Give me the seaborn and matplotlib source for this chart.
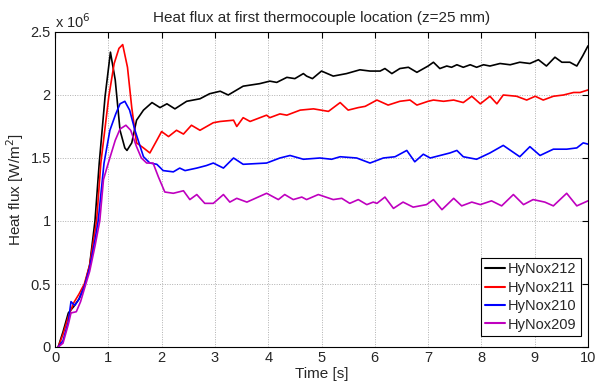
import numpy as np
import pandas as pd
import matplotlib
matplotlib.use("Agg")
import matplotlib.pyplot as plt
from matplotlib.ticker import FuncFormatter
import seaborn as sns

# ---- data (heat flux in units of 1e6 W/m^2) ----
series_names = ["HyNox212", "HyNox211", "HyNox210", "HyNox209"]

t_212 = [0.06, 0.15, 0.25, 0.35, 0.45, 0.55, 0.65, 0.75, 0.83, 0.94, 1.04, 1.13, 1.22, 1.31, 1.35,
         1.44, 1.53, 1.66, 1.82, 1.97, 2.1, 2.25, 2.47, 2.72, 2.9, 3.1, 3.25, 3.53, 3.84, 4.03,
         4.16, 4.35, 4.5, 4.66, 4.72, 4.83, 5.0, 5.22, 5.47, 5.72, 5.91, 6.1, 6.19, 6.32, 6.47,
         6.63, 6.79, 7.0, 7.1, 7.22, 7.35, 7.44, 7.54, 7.66, 7.79, 7.91, 8.04, 8.16, 8.35, 8.54,
         8.72, 8.91, 9.07, 9.22, 9.38, 9.51, 9.66, 9.79, 9.9, 10.0]
v_212 = [0.0, 0.12, 0.27, 0.32, 0.38, 0.48, 0.65, 1.0, 1.46, 1.99, 2.34, 2.12, 1.72, 1.58, 1.56,
         1.62, 1.80, 1.88, 1.94, 1.90, 1.93, 1.89, 1.95, 1.97, 2.01, 2.03, 2.0, 2.07, 2.09, 2.11,
         2.10, 2.14, 2.13, 2.17, 2.15, 2.13, 2.19, 2.15, 2.17, 2.20, 2.19, 2.19, 2.21, 2.17, 2.21,
         2.22, 2.18, 2.23, 2.26, 2.21, 2.23, 2.22, 2.24, 2.22, 2.24, 2.22, 2.24, 2.23, 2.25, 2.24,
         2.26, 2.25, 2.28, 2.23, 2.30, 2.26, 2.26, 2.23, 2.31, 2.39]

t_211 = [0.06, 0.15, 0.25, 0.35, 0.45, 0.55, 0.65, 0.78, 0.86, 1.01, 1.11, 1.2, 1.27, 1.36, 1.44,
         1.53, 1.66, 1.78, 1.91, 2.0, 2.13, 2.28, 2.41, 2.56, 2.72, 2.97, 3.1, 3.35, 3.41, 3.53,
         3.66, 3.97, 4.03, 4.22, 4.35, 4.6, 4.85, 5.13, 5.35, 5.5, 5.69, 5.82, 6.04, 6.25, 6.47,
         6.66, 6.79, 7.0, 7.1, 7.29, 7.48, 7.66, 7.82, 7.98, 8.16, 8.29, 8.41, 8.66, 8.85, 9.01,
         9.16, 9.35, 9.54, 9.73, 9.85, 10.0]
v_211 = [0.0, 0.10, 0.24, 0.35, 0.42, 0.50, 0.65, 1.0, 1.46, 1.99, 2.25, 2.37, 2.40, 2.22, 1.90,
         1.62, 1.58, 1.54, 1.64, 1.71, 1.67, 1.72, 1.69, 1.76, 1.72, 1.78, 1.79, 1.80, 1.75, 1.82,
         1.79, 1.84, 1.82, 1.85, 1.84, 1.88, 1.89, 1.87, 1.94, 1.88, 1.90, 1.91, 1.96, 1.92, 1.95,
         1.96, 1.92, 1.95, 1.96, 1.95, 1.96, 1.94, 1.99, 1.93, 1.99, 1.93, 2.0, 1.99, 1.96, 1.99,
         1.96, 1.99, 2.0, 2.02, 2.02, 2.04]

t_210 = [0.06, 0.15, 0.25, 0.3, 0.37, 0.45, 0.55, 0.65, 0.75, 0.81, 0.92, 1.03, 1.14, 1.22, 1.31,
         1.4, 1.5, 1.66, 1.78, 1.91, 2.03, 2.22, 2.34, 2.44, 2.66, 2.84, 2.97, 3.16, 3.35, 3.53,
         3.97, 4.22, 4.41, 4.66, 4.97, 5.19, 5.35, 5.66, 5.91, 6.16, 6.38, 6.6, 6.75, 6.91, 7.04,
         7.41, 7.54, 7.66, 7.91, 8.16, 8.41, 8.72, 8.91, 9.1, 9.35, 9.6, 9.79, 9.91, 10.0]
v_210 = [0.0, 0.05, 0.20, 0.36, 0.33, 0.38, 0.48, 0.63, 0.85, 1.0, 1.46, 1.72, 1.85, 1.93, 1.95,
         1.88, 1.72, 1.51, 1.46, 1.45, 1.40, 1.39, 1.42, 1.40, 1.42, 1.44, 1.46, 1.42, 1.50, 1.45,
         1.46, 1.50, 1.52, 1.49, 1.50, 1.49, 1.51, 1.50, 1.46, 1.50, 1.51, 1.56, 1.47, 1.53, 1.50,
         1.54, 1.56, 1.51, 1.49, 1.54, 1.60, 1.51, 1.59, 1.52, 1.57, 1.57, 1.58, 1.62, 1.61]

t_209 = [0.06, 0.15, 0.25, 0.3, 0.4, 0.48, 0.55, 0.65, 0.75, 0.84, 0.91, 1.0, 1.13, 1.22, 1.33,
         1.42, 1.53, 1.62, 1.72, 1.84, 1.94, 2.06, 2.22, 2.41, 2.53, 2.66, 2.81, 2.97, 3.16, 3.28,
         3.41, 3.6, 3.97, 4.19, 4.31, 4.47, 4.63, 4.72, 4.94, 5.22, 5.38, 5.53, 5.69, 5.85, 5.97,
         6.04, 6.19, 6.35, 6.53, 6.72, 6.97, 7.1, 7.26, 7.48, 7.63, 7.82, 7.98, 8.19, 8.38, 8.6,
         8.79, 8.97, 9.19, 9.35, 9.6, 9.79, 10.0]
v_209 = [0.0, 0.03, 0.18, 0.27, 0.28, 0.36, 0.46, 0.60, 0.80, 1.0, 1.33, 1.46, 1.64, 1.73, 1.76,
         1.72, 1.59, 1.50, 1.46, 1.46, 1.35, 1.23, 1.22, 1.24, 1.17, 1.21, 1.14, 1.14, 1.21, 1.15,
         1.18, 1.15, 1.22, 1.17, 1.21, 1.17, 1.19, 1.17, 1.21, 1.17, 1.18, 1.14, 1.17, 1.13, 1.15,
         1.14, 1.19, 1.10, 1.15, 1.11, 1.13, 1.17, 1.09, 1.18, 1.12, 1.15, 1.13, 1.16, 1.12, 1.21,
         1.13, 1.17, 1.15, 1.12, 1.22, 1.12, 1.16]

x_ticks = [0, 1, 2, 3, 4, 5, 6, 7, 8, 9, 10]
y_ticks = [0, 0.5, 1, 1.5, 2, 2.5]
scale = 1e6

frames = []
for name, t, v in zip(series_names, [t_212, t_211, t_210, t_209], [v_212, v_211, v_210, v_209]):
    frames.append(pd.DataFrame({"Time": t, "Flux": np.array(v) * scale, "Series": name}))
df = pd.concat(frames, ignore_index=True)

palette = {"HyNox212": "#000000", "HyNox211": "#ff0000", "HyNox210": "#0000ff", "HyNox209": "#bf00bf"}

sns.set_style("white")
plt.rcParams["font.family"] = ["Liberation Sans", "DejaVu Sans"]
txt_color = "#262626"

fig = plt.figure(figsize=(5.97, 3.85), dpi=100)
ax = fig.add_axes([55 / 597, 1 - 347 / 385, (588 - 55) / 597, (347 - 32) / 385])

sns.lineplot(data=df, x="Time", y="Flux", hue="Series", hue_order=series_names, palette=palette,
             estimator=None, sort=False, linewidth=1.2, ax=ax)

ax.set_xlim(0, 10)
ax.set_ylim(0, 2.5 * scale)
ax.set_xticks(x_ticks)
ax.set_yticks([y * scale for y in y_ticks])
ax.yaxis.set_major_formatter(FuncFormatter(lambda val, pos: "%g" % (val / scale)))
ax.grid(True, linestyle=(0, (1, 1.5)), color="#b0b0b0", linewidth=0.7)
for s in ax.spines.values():
    s.set_color("black")
    s.set_linewidth(0.8)
ax.tick_params(direction="in", length=4, width=0.8, top=True, right=True, labelsize=10.5,
               colors="black", labelcolor=txt_color, pad=3)

ax.set_xlabel("Time [s]", fontsize=11, labelpad=1, color=txt_color)
ax.set_ylabel("Heat flux [W/m$^2$]", fontsize=11, labelpad=3, color=txt_color)
ax.set_title("Heat flux at first thermocouple location (z=25 mm)", fontsize=11, pad=7, color=txt_color)
ax.text(0.0, 1.003, r"x 10$^6$", transform=ax.transAxes, fontsize=10.5, ha="left", va="bottom",
        color=txt_color)

leg = ax.legend(loc="upper left", bbox_to_anchor=(481 / 597, 1 - 258 / 385),
                bbox_transform=fig.transFigure, fontsize=10.5, frameon=True, fancybox=False,
                edgecolor="black", framealpha=1, borderpad=0.3, labelspacing=0.3,
                handlelength=1.35, handletextpad=0.2, borderaxespad=0)
leg.get_frame().set_linewidth(0.8)
for text in leg.get_texts():
    text.set_color(txt_color)
for line in leg.get_lines():
    line.set_linewidth(1.5)

fig.savefig("out.png", dpi=100)
